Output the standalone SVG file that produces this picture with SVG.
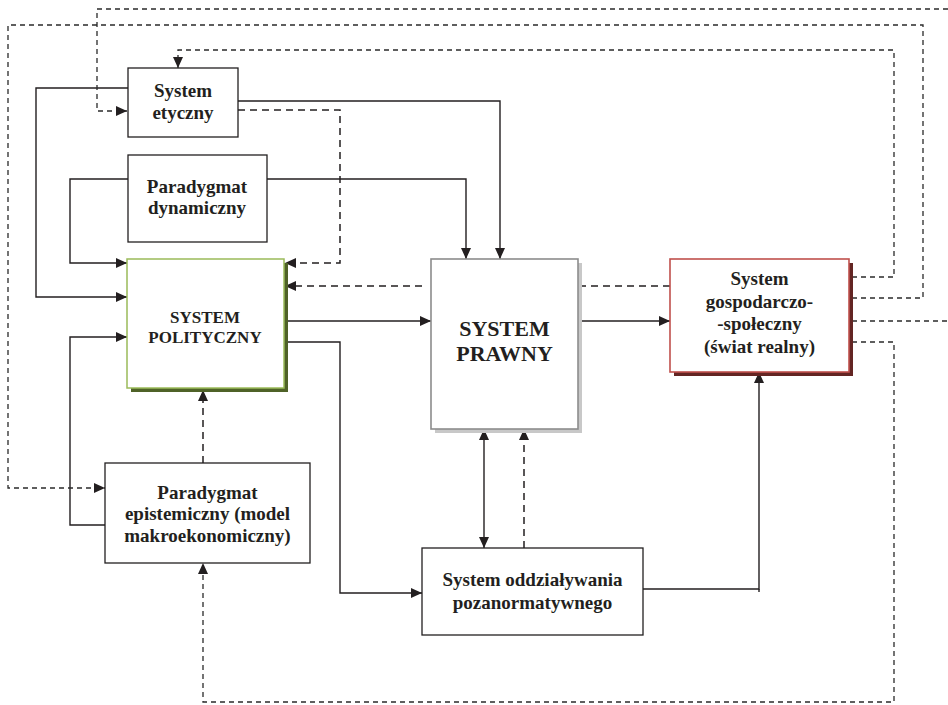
<svg xmlns="http://www.w3.org/2000/svg" width="948" height="705" viewBox="0 0 948 705">
<style>
.box{fill:#fff;stroke:#231f20;stroke-width:1.3}
.t{font-family:"Liberation Serif","Times New Roman",serif;font-weight:bold;fill:#231f20;text-anchor:middle}
.c{fill:none;stroke:#231f20;stroke-width:1.4}
.d{fill:none;stroke:#231f20;stroke-width:1.5;stroke-dasharray:7 5}
.dt{fill:none;stroke:#2a2a2a;stroke-width:1.3;stroke-dasharray:5 4}
</style>
<defs>
<marker id="ar" markerUnits="userSpaceOnUse" markerWidth="11" markerHeight="10" refX="11" refY="5" orient="auto-start-reverse" viewBox="0 0 11 10">
<path d="M0,0 L11,5 L0,10 z" fill="#231f20"/>
</marker>
</defs>
<rect width="948" height="705" fill="#fff"/>

<g id="connectors">
<polyline class="c" points="128,88 36,88 36,297 127,297" marker-end="url(#ar)"/>
<polyline class="c" points="128,179 70,179 70,263 127,263" marker-end="url(#ar)"/>
<polyline class="c" points="105,525 70,525 70,337 127,337" marker-end="url(#ar)"/>
<polyline class="c" points="238,101 500,101 500,259" marker-end="url(#ar)"/>
<polyline class="c" points="267,179 466,179 466,259" marker-end="url(#ar)"/>
<polyline class="c" points="288,321 431,321" marker-end="url(#ar)"/>
<polyline class="c" points="288,342 340,342 340,593 422,593" marker-end="url(#ar)"/>
<polyline class="c" points="569,321 670,321" marker-end="url(#ar)"/>
<polyline class="c" points="484,429 484,548" marker-start="url(#ar)" marker-end="url(#ar)"/>
<polyline class="c" points="643,589 759,589 759,372" marker-end="url(#ar)"/>
<line class="c" x1="759" y1="589" x2="759" y2="592"/>
<polyline class="d" points="238,110 340,110 340,263 285,263" marker-end="url(#ar)"/>
<polyline class="d" points="422,286 285,286" marker-end="url(#ar)"/>
<polyline class="d" points="670,286 569,286" marker-end="url(#ar)"/>
<polyline class="d" points="203,463 203,390" marker-end="url(#ar)"/>
<polyline class="d" points="524,548 524,429" marker-end="url(#ar)"/>
<polyline class="dt" points="948,9 97,9 97,111 127,111" marker-end="url(#ar)"/>
<polyline class="dt" points="852,298 923,298 923,25 8,25 8,488 105,488" marker-end="url(#ar)"/>
<polyline class="dt" points="852,277 894,277 894,50 178,50 178,68" marker-end="url(#ar)"/>
<polyline class="dt" points="852,342 894,342 894,702 203,702 203,563" marker-end="url(#ar)"/>
<polyline class="dt" points="852,321 948,321"/>
</g>

<g id="system-etyczny">
<rect class="box" x="128" y="68" width="110" height="69"/>
<text class="t" font-size="19" x="183" y="97">System</text>
<text class="t" font-size="19" x="183" y="119">etyczny</text>
</g>

<g id="paradygmat-dynamiczny">
<rect class="box" x="128" y="155" width="139" height="87"/>
<text class="t" font-size="19" x="197" y="193">Paradygmat</text>
<text class="t" font-size="19" x="197" y="214">dynamiczny</text>
</g>

<g id="system-polityczny">
<rect x="131" y="263" width="157" height="129" fill="#4f6228"/>
<rect x="127" y="259" width="157" height="129" fill="#fff" stroke="#9bbb59" stroke-width="1.5"/>
<text class="t" font-size="17" x="205" y="323">SYSTEM</text>
<text class="t" font-size="17" x="205" y="343">POLITYCZNY</text>
</g>

<g id="system-prawny">
<rect x="435" y="263" width="147" height="170" fill="#c8c8c8"/>
<rect x="431" y="259" width="147" height="170" fill="#fff" stroke="#8c8c8c" stroke-width="1.6"/>
<text class="t" font-size="22" x="504.5" y="336">SYSTEM</text>
<text class="t" font-size="22" x="504.5" y="361">PRAWNY</text>
</g>

<g id="system-gospodarczo-spoleczny">
<rect x="674" y="263" width="179" height="113" fill="#632523"/>
<rect x="670" y="259" width="179" height="113" fill="#fff" stroke="#c0504d" stroke-width="1.6"/>
<text class="t" font-size="19" x="759.5" y="285">System</text>
<text class="t" font-size="19" x="759.5" y="308">gospodarczo-</text>
<text class="t" font-size="19" x="759.5" y="330">-społeczny</text>
<text class="t" font-size="19" x="759.5" y="353">(świat realny)</text>
</g>

<g id="paradygmat-epistemiczny">
<rect class="box" x="105" y="463" width="205" height="100"/>
<text class="t" font-size="19" x="207.5" y="499">Paradygmat</text>
<text class="t" font-size="19" x="207.5" y="520">epistemiczny (model</text>
<text class="t" font-size="19" x="207.5" y="542">makroekonomiczny)</text>
</g>

<g id="system-oddzialywania">
<rect class="box" x="422" y="548" width="221" height="87"/>
<text class="t" font-size="19" x="532.5" y="586">System oddziaływania</text>
<text class="t" font-size="19" x="532.5" y="609">pozanormatywnego</text>
</g>
</svg>
